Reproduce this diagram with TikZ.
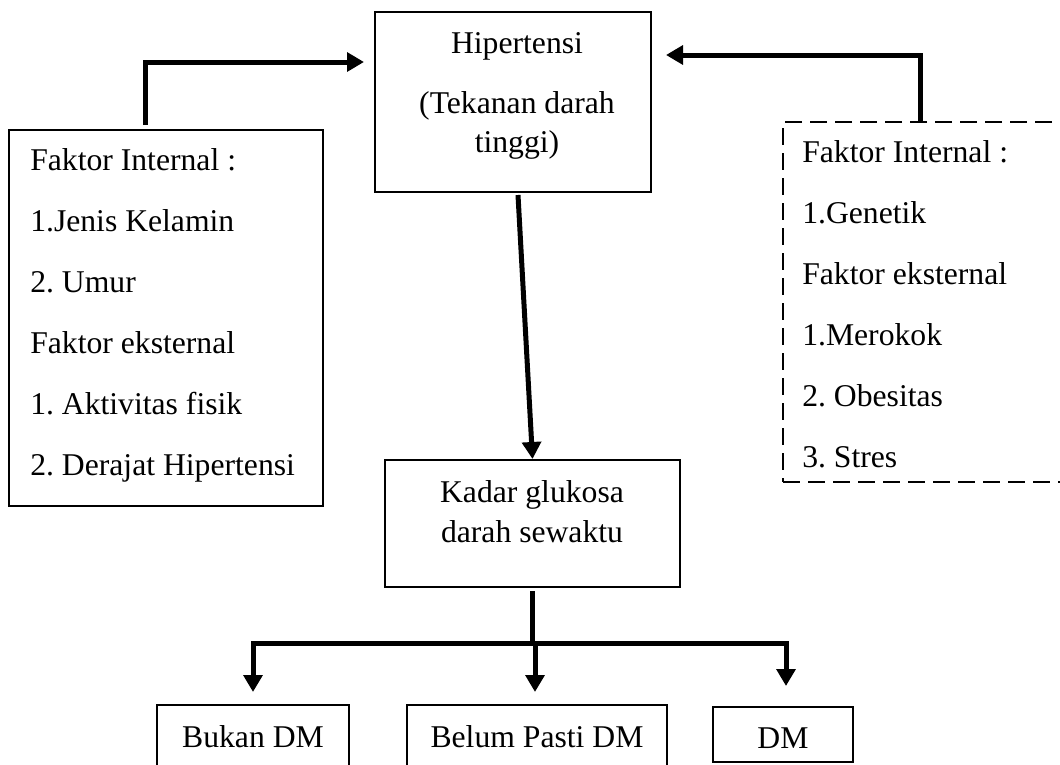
\documentclass[tikz,border=0pt]{standalone}
\usepackage{fontspec}
\setmainfont{Liberation Serif}
\frenchspacing
\usetikzlibrary{arrows.meta,calc}

\tikzset{
  kotak/.style={draw, line width=1.5pt, inner sep=0pt},
  putus/.style={kotak, dash pattern=on 12.75pt off 6pt},
  panah/.style={line width=3.75pt, -{Triangle[length=12.75pt,width=14pt]}},
  teks/.style={font=\fontsize{23.75}{45.75}\selectfont, inner sep=0pt},
}

\begin{document}
\begin{tikzpicture}[x=0.75pt, y=-0.75pt]
    \clip (0, 0) rectangle (1060, 764);
    % kotak
    \node[kotak, minimum width=207pt, minimum height=135pt] (hip) at (513, 102) {};
    \node[kotak, minimum width=235.5pt, minimum height=282pt] (kiri) at (166, 318) {};
    \node[putus, minimum width=237.75pt, minimum height=270pt] (kanan) at (941.5, 302) {};
    \node[kotak, minimum width=221.25pt, minimum height=95.25pt] (kadar) at (532.5, 523.5) {};
    \node[kotak, minimum width=144pt, minimum height=75pt] (bukan) at (253, 755) {};
    \node[kotak, minimum width=195pt, minimum height=75pt] (belum) at (537, 755) {};
    \node[kotak, minimum width=105pt, minimum height=41.25pt] (dm) at (783, 734.5) {};
    % teks (base = baris terakhir)
    \node[teks, anchor=base, align=center, font=\fontsize{23.75}{29.25}\selectfont] (hipteks) at (517, 152)
      {Hipertensi\\[15.75pt](Tekanan darah\\tinggi)};
    \node[teks, anchor=base west, align=left] (kiriteks) at (30, 475)
      {Faktor Internal :\\1.Jenis Kelamin\\2. Umur\\Faktor eksternal\\1. Aktivitas fisik\\2. Derajat Hipertensi};
    \node[teks, anchor=base west, align=left] (kananteks) at (802, 467)
      {Faktor Internal :\\1.Genetik\\Faktor eksternal\\1.Merokok\\2. Obesitas\\3. Stres};
    \node[teks, anchor=base, align=center, font=\fontsize{23.75}{30}\selectfont] (kadarteks) at (532, 542)
      {Kadar glukosa\\darah sewaktu};
    \node[teks, anchor=base] (bukanteks) at (253, 747) {Bukan DM};
    \node[teks, anchor=base] (belumteks) at (537, 747) {Belum Pasti DM};
    \node[teks, anchor=base] (dmteks) at (783, 748) {DM};
    % panah
    \draw[panah] ($(kiri.north) + (-21, -4)$) |- ($(hip.west) + (-10, -40)$);
    \draw[panah] ($(kanan.north) + (-21.5, 0)$) |- ($(hip.east) + (14, -47)$);
    \draw[panah] ($(hip.south) + (5, 2)$) -- (kadar.north);
    \coordinate (cabang) at ($(kadar.south) + (0, 55)$);
    \draw[line width=3.75pt] ($(kadar.south) + (0, 3)$) -- (cabang);
    \draw[panah] (cabang) -| ($(bukan.north) + (0, -12)$);
    \draw[panah] (cabang) -| ($(belum.north) + (-2, -12)$);
    \draw[panah] (cabang) -| ($(dm.north) + (3, -20)$);
  \end{tikzpicture}
\end{document}
